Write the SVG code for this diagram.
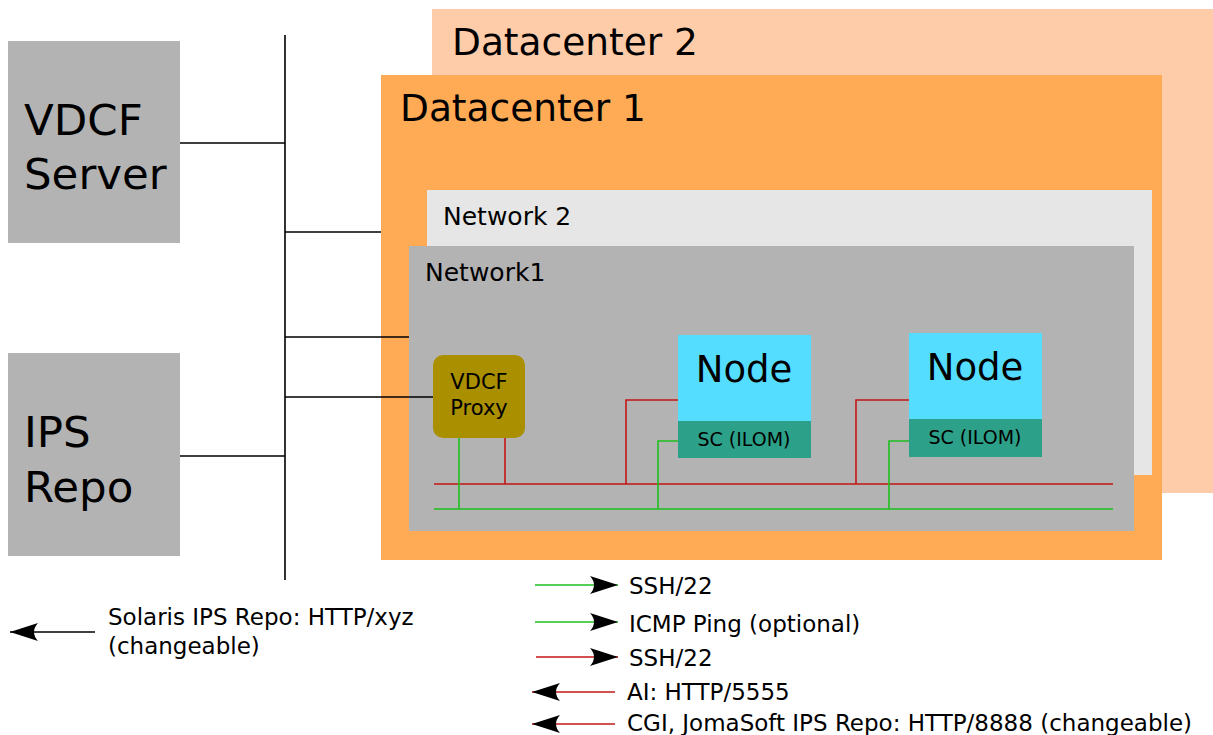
<svg xmlns="http://www.w3.org/2000/svg" width="1213" height="735" viewBox="0 0 1213 735">
<style>
text{font-family:"DejaVu Sans","Verdana",sans-serif;fill:#000}
.big{font-size:43.5px}
.dc{font-size:37.5px}
.net{font-size:25px}
.lg{font-size:23px}
.blk{stroke:#000;stroke-width:1.6;fill:none}
.red{stroke:#c41616;stroke-width:1.6;fill:none}
.grn{stroke:#1fbf1f;stroke-width:1.6;fill:none}
</style>
<defs>
<marker id="ah" viewBox="-30 -11 32 22" markerWidth="32" markerHeight="22" refX="0" refY="0" markerUnits="userSpaceOnUse" orient="auto">
<path d="M0,0 L-28,-9 Q-20,0 -28,9 Z" fill="#000"/>
</marker>
</defs>
<rect width="1213" height="735" fill="#fff"/>
<g id="datacenter2">
<rect x="432" y="9" width="781" height="484" fill="#ffccaa"/>
<text x="452" y="55" class="dc">Datacenter 2</text>
</g>
<g id="datacenter1">
<rect x="381" y="75" width="781" height="485" fill="#ffaa55"/>
<text x="400" y="121" class="dc">Datacenter 1</text>
</g>
<g id="network2">
<rect x="427" y="190" width="725" height="285" fill="#e6e6e6"/>
<text x="443" y="225" class="net">Network 2</text>
</g>
<g id="network1">
<rect x="409" y="246" width="725" height="285" fill="#b3b3b3"/>
<text x="425" y="281" class="net">Network1</text>
</g>
<g id="vdcf-server">
<rect x="8" y="41" width="172" height="202" fill="#b3b3b3"/>
<text x="24" y="135" class="big">VDCF</text>
<text x="24" y="189" class="big">Server</text>
</g>
<g id="ips-repo">
<rect x="8" y="353" width="172" height="203" fill="#b3b3b3"/>
<text x="24" y="447" class="big">IPS</text>
<text x="24" y="502" class="big">Repo</text>
</g>
<g id="vdcf-proxy">
<rect x="433" y="355" width="92" height="83" rx="10" fill="#aa8f00"/>
<text x="479" y="389" font-size="21" text-anchor="middle">VDCF</text>
<text x="479" y="415" font-size="21" text-anchor="middle">Proxy</text>
</g>
<g id="node1">
<rect x="678" y="335" width="133" height="87" fill="#55ddff"/>
<rect x="678" y="421" width="133" height="37" fill="#2ca089"/>
<text x="744" y="382" font-size="37" text-anchor="middle">Node</text>
<text x="744" y="446" font-size="19" text-anchor="middle">SC (ILOM)</text>
</g>
<g id="node2">
<rect x="909" y="333" width="133" height="87" fill="#55ddff"/>
<rect x="909" y="419" width="133" height="38" fill="#2ca089"/>
<text x="975" y="380" font-size="37" text-anchor="middle">Node</text>
<text x="975" y="444" font-size="19" text-anchor="middle">SC (ILOM)</text>
</g>
<g id="connectors">
<path class="blk" d="M285,35 V580 M180,143 H285 M180,456 H285 M285,232 H381 M285,337 H409 M285,397 H433"/>
<path class="red" d="M434,484 H1113 M505,438 V484 M678,400 H626 V484 M909,400 H856 V484"/>
<path class="grn" d="M434,509 H1113 M459,438 V509 M678,441 H658 V509 M909,441 H889 V509"/>
</g>
<g id="legend">
<line x1="535" y1="585" x2="618" y2="585" class="grn" marker-end="url(#ah)"/>
<text x="629" y="594" class="lg">SSH/22</text>
<line x1="535" y1="622" x2="618" y2="622" class="grn" marker-end="url(#ah)"/>
<text x="629" y="632" class="lg">ICMP Ping (optional)</text>
<line x1="536" y1="657" x2="618" y2="657" class="red" marker-end="url(#ah)"/>
<text x="629" y="666" class="lg">SSH/22</text>
<line x1="615" y1="692" x2="532" y2="692" class="red" marker-end="url(#ah)"/>
<text x="627" y="700" class="lg">AI: HTTP/5555</text>
<line x1="615" y1="724" x2="532" y2="724" class="red" marker-end="url(#ah)"/>
<text x="627" y="731" class="lg">CGI, JomaSoft IPS Repo: HTTP/8888 (changeable)</text>
<line x1="95" y1="632" x2="10" y2="632" class="blk" marker-end="url(#ah)"/>
<text x="108" y="625" class="lg">Solaris IPS Repo: HTTP/xyz</text>
<text x="108" y="654" class="lg">(changeable)</text>
</g>
</svg>
